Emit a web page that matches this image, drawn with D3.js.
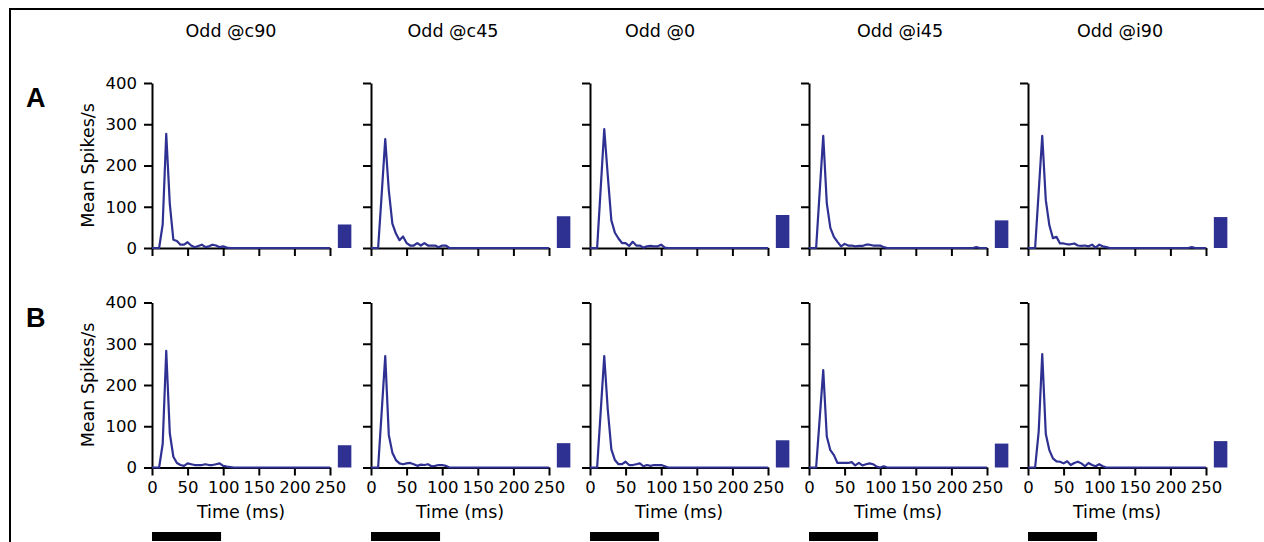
<!DOCTYPE html>
<html>
  <head>
    <meta charset="utf-8">
    <title>Odd PSTH</title>
    <script src="https://d3js.org/d3.v7.min.js"></script>
    <style>
      body { margin: 0; background: #fff; }
    </style>
  </head>
  <body>

    <script>

      // Conditions (columns) and rows
      var conditions = ["Odd @c90", "Odd @c45", "Odd @0", "Odd @i45", "Odd @i90"];
      var rowLabels = ["A", "B"];

      // Bin start times (ms)
      var binTimes = [0, 5, 10, 15, 20, 25, 30, 35, 40, 45, 50, 55, 60, 65, 70, 75, 80, 85, 90, 95,
                      100, 105, 110, 115, 120, 125, 130, 135, 140, 145, 150, 155, 160, 165, 170, 175,
                      180, 185, 190, 195, 200, 205, 210, 215, 220, 225, 230, 235, 240, 245, 250];

      // Row A mean spike rates (spikes/s), one per bin
      var rateA_c90 = [0, 0, 0, 57, 277, 107, 20, 17, 8, 8, 14, 6, 2, 5, 8, 2, 4, 8, 6, 2,
                       4, 1, 0, 0, 0, 0, 0, 0, 0, 0, 0, 0, 0, 0, 0, 0, 0, 0, 0, 0, 0, 0, 0, 0, 0, 0, 0, 0, 0, 0, 0];
      var rateA_c45 = [0, 0, 0, 130, 264, 140, 59, 35, 19, 28, 12, 6, 6, 12, 6, 12, 6, 6, 6, 2,
                       6, 6, 0, 0, 0, 0, 0, 0, 0, 0, 0, 0, 0, 0, 0, 0, 0, 0, 0, 0, 0, 0, 0, 0, 0, 0, 0, 0, 0, 0, 0];
      var rateA_0   = [0, 0, 0, 144, 288, 175, 67, 37, 23, 12, 12, 5, 15, 6, 6, 1, 4, 5, 4, 4,
                       8, 1, 0, 0, 0, 0, 0, 0, 0, 0, 0, 0, 0, 0, 0, 0, 0, 0, 0, 0, 0, 0, 0, 0, 0, 0, 0, 0, 0, 0, 0];
      var rateA_i45 = [0, 0, 0, 136, 272, 108, 49, 27, 15, 4, 10, 6, 6, 4, 5, 5, 8, 8, 6, 6,
                       6, 2, 0, 0, 0, 0, 0, 0, 0, 0, 0, 0, 0, 0, 0, 0, 0, 0, 0, 0, 0, 0, 0, 0, 0, 0, 0, 2, 0, 0, 0];
      var rateA_i90 = [0, 0, 0, 136, 272, 116, 55, 24, 27, 11, 11, 9, 9, 11, 6, 5, 6, 4, 8, 1,
                       8, 4, 2, 0, 0, 0, 0, 0, 0, 0, 0, 0, 0, 0, 0, 0, 0, 0, 0, 0, 0, 0, 0, 0, 0, 0, 2, 0, 0, 0, 0];

      // Row B mean spike rates
      var rateB_c90 = [0, 0, 0, 57, 283, 83, 26, 11, 6, 4, 10, 8, 6, 6, 6, 8, 6, 6, 8, 10,
                       4, 2, 1, 0, 0, 0, 0, 0, 0, 0, 0, 0, 0, 0, 0, 0, 0, 0, 0, 0, 0, 0, 0, 0, 0, 0, 0, 0, 0, 0, 0];
      var rateB_c45 = [0, 0, 0, 135, 270, 79, 36, 18, 10, 8, 10, 11, 8, 4, 7, 6, 8, 3, 4, 6,
                       6, 4, 0, 0, 0, 0, 0, 0, 0, 0, 0, 0, 0, 0, 0, 0, 0, 0, 0, 0, 0, 0, 0, 0, 0, 0, 0, 0, 0, 0, 0];
      var rateB_0   = [0, 0, 0, 135, 270, 140, 44, 18, 8, 8, 14, 6, 6, 8, 10, 3, 6, 4, 6, 6,
                       6, 3, 0, 0, 0, 0, 0, 0, 0, 0, 0, 0, 0, 0, 0, 0, 0, 0, 0, 0, 0, 0, 0, 0, 0, 0, 0, 0, 0, 0, 0];
      var rateB_i45 = [0, 0, 0, 118, 236, 75, 42, 30, 11, 11, 11, 11, 13, 5, 11, 5, 8, 10, 8, 2,
                       0, 3, 0, 0, 0, 0, 0, 0, 0, 0, 0, 0, 0, 0, 0, 0, 0, 0, 0, 0, 0, 0, 0, 0, 0, 0, 0, 0, 0, 0, 0];
      var rateB_i90 = [0, 0, 0, 87, 275, 81, 42, 22, 15, 14, 10, 15, 6, 11, 14, 10, 3, 11, 6, 3,
                       8, 3, 0, 0, 0, 0, 0, 0, 0, 0, 0, 0, 0, 0, 0, 0, 0, 0, 0, 0, 0, 0, 0, 0, 0, 0, 0, 0, 0, 0, 0];

      // Mean rate bars shown at the right of each panel
      var meanA = [57, 77, 80, 67, 75];
      var meanB = [54, 59, 66, 58, 64];

      // Axis ticks and stimulus window (ms)
      var yTicks = [0, 100, 200, 300, 400];
      var xTicks = [0, 50, 100, 150, 200, 250];
      var stimulus = [0, 97];

      var rows = [
        { label: "A", rates: [rateA_c90, rateA_c45, rateA_0, rateA_i45, rateA_i90], means: meanA },
        { label: "B", rates: [rateB_c90, rateB_c45, rateB_0, rateB_i45, rateB_i90], means: meanB }
      ];

      // layout
      var blue = "#2e3192";
      var font = "'DejaVu Sans', sans-serif";
      var colX = [152, 371, 590, 809, 1028];
      var rowY = [83, 302.5];
      var plotW = 178, plotH = 165;
      var titleX = [231, 453, 660, 900, 1120];

      var svg = d3.select("body").append("svg")
        .attr("width", 1264)
        .attr("height", 542);

      // frame
      svg.append("path")
        .attr("d", "M10,542V9H1264")
        .attr("fill", "none")
        .attr("stroke", "#000")
        .attr("stroke-width", 2);

      // column titles
      svg.selectAll("text.title").data(conditions).enter().append("text")
        .attr("class", "title")
        .attr("x", function(d, i) { return titleX[i]; })
        .attr("y", 37)
        .attr("text-anchor", "middle")
        .attr("font-family", font)
        .attr("font-size", 17.5)
        .text(function(d) { return d; });

      var x = d3.scaleLinear().domain([0, 250]).range([0, plotW]);
      var y = d3.scaleLinear().domain([0, 400]).range([plotH, 0]);

      var line = d3.line()
        .x(function(d, i) { return x(binTimes[i]); })
        .y(function(d) { return y(d); });

      rows.forEach(function(row, r) {

        // row letter
        svg.append("text")
          .attr("x", 26)
          .attr("y", rowY[r] + 24)
          .attr("font-family", "'Liberation Sans', Arial, sans-serif")
          .attr("font-weight", "bold")
          .attr("font-size", 27)
          .text(row.label);

        // y label
        svg.append("text")
          .attr("transform", "translate(94," + (rowY[r] + plotH / 2) + ") rotate(-90)")
          .attr("text-anchor", "middle")
          .attr("font-family", font)
          .attr("font-size", 17.5)
          .text("Mean Spikes/s");

        row.rates.forEach(function(rates, c) {
          var g = svg.append("g")
            .attr("transform", "translate(" + colX[c] + "," + rowY[r] + ")");

          var yAxis = d3.axisLeft(y).tickValues(yTicks)
            .tickSize(8).tickSizeOuter(0).tickPadding(7);
          if (c > 0) yAxis.tickFormat("");

          var xAxis = d3.axisBottom(x).tickValues(xTicks)
            .tickSize(8).tickSizeOuter(0).tickPadding(6);
          if (r == 0) xAxis.tickFormat("");

          var ya = g.append("g").call(yAxis);
          var xa = g.append("g").attr("transform", "translate(0," + plotH + ")").call(xAxis);

          [ya, xa].forEach(function(a) {
            a.attr("font-family", font).attr("font-size", 16.5);
            a.selectAll("path, line").attr("stroke", "#000").attr("stroke-width", 2);
            a.selectAll("text").attr("fill", "#000");
          });

          // mean rate bar
          g.append("rect")
            .attr("x", x(261))
            .attr("width", x(280) - x(261))
            .attr("y", y(row.means[c]))
            .attr("height", y(0) - y(row.means[c]))
            .attr("fill", blue);

          // PSTH line
          g.append("path")
            .datum(rates)
            .attr("d", line)
            .attr("fill", "none")
            .attr("stroke", blue)
            .attr("stroke-width", 2.2)
            .attr("stroke-linejoin", "round");

          if (r == 1) {
            g.append("text")
              .attr("x", plotW / 2)
              .attr("y", plotH + 50.5)
              .attr("text-anchor", "middle")
              .attr("font-family", font)
              .attr("font-size", 17.5)
              .text("Time (ms)");

            // stimulus bar
            g.append("rect")
              .attr("x", x(stimulus[0]))
              .attr("width", x(stimulus[1]) - x(stimulus[0]))
              .attr("y", plotH + 64.5)
              .attr("height", 9)
              .attr("fill", "#000");
          }
        });
      });

    </script>

  </body>
</html>
